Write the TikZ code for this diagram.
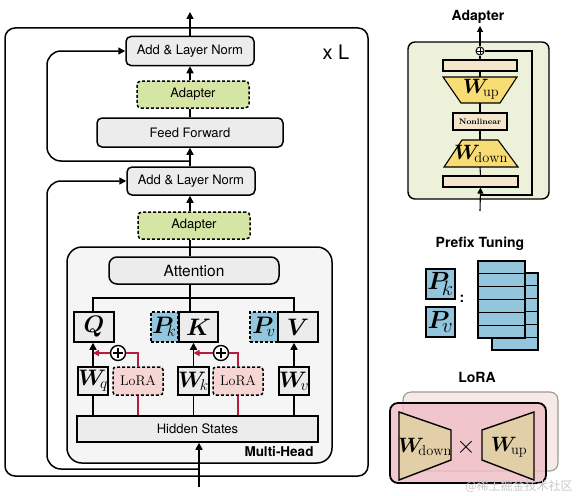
\documentclass[tikz,border=0pt]{standalone}
\usepackage{fontspec}
\setsansfont{TeX Gyre Heros}
\newfontfamily\cjk{Noto Sans CJK SC}
\usepackage{amsmath,bm,graphicx}
\usetikzlibrary{arrows.meta,calc}
\definecolor{boxgray}{HTML}{ECECEC}
\definecolor{mhgray}{HTML}{F5F5F5}
\definecolor{adgreen}{HTML}{D5E5A3}
\definecolor{pblue}{HTML}{93C5DC}
\definecolor{lorapink}{HTML}{F6D5D5}
\definecolor{lred}{HTML}{B71C3A}
\definecolor{panelgreen}{HTML}{EDF1DA}
\definecolor{trapyellow}{HTML}{F8DC74}
\definecolor{bartan}{HTML}{F4E5CB}
\definecolor{lorafront}{HTML}{EFBFC7}
\definecolor{loraback}{HTML}{F8E9E9}
\definecolor{loratan}{HTML}{E2CFA7}
\definecolor{wm}{HTML}{C8C8C8}
\newcommand\myfs[1]{\fontsize{#1}{#1}\selectfont}
\newcommand\mysclA[1]{\scalebox{1.15}{$#1$}}
\newcommand\mysclB[1]{\scalebox{1.08}{$#1$}}
\begin{document}
\begin{tikzpicture}[x=1pt,y=-1pt,
  ln/.style={line width=1.5pt},
  arr/.style={line width=1.5pt,-{Triangle[length=7pt,width=7pt]}},
  ln2/.style={line width=1.1pt},
  arr2/.style={line width=1.1pt,-{Triangle[length=6pt,width=6pt]}},
  redln/.style={line width=1.5pt, draw=lred},
  redarr/.style={line width=1.5pt, draw=lred, -{Triangle[length=6pt,width=6pt]}, lred},
  base/.style={draw, line width=1.5pt, inner sep=0pt, font=\sffamily\myfs{13}},
  gbox/.style={base, fill=boxgray, rounded corners=5pt},
  adbox/.style={base, fill=adgreen, rounded corners=4pt, dash pattern=on 3pt off 2pt},
  sqbox/.style={base, fill=boxgray, minimum height=30pt, font=\myfs{20.74}},
  wbox/.style={base, fill=boxgray, minimum height=28pt, font=\myfs{20.74}},
  pbox/.style={base, fill=pblue, minimum height=30pt, dash pattern=on 3pt off 2pt, font=\myfs{20.74}},
  lbox/.style={base, fill=lorapink, rounded corners=3pt, minimum height=28pt, minimum width=50pt, dash pattern=on 3pt off 2pt, font=\myfs{14}},
  oplus/.style={circle, draw, line width=1.4pt, fill=white, minimum size=15pt, inner sep=0pt,
    path picture={\draw[line width=1.4pt] ([xshift=-5pt]path picture bounding box.center) -- ([xshift=5pt]path picture bounding box.center);
      \draw[line width=1.4pt] ([yshift=-5pt]path picture bounding box.center) -- ([yshift=5pt]path picture bounding box.center);}},
  title/.style={font=\sffamily\bfseries\myfs{14}},
  bar/.style={draw, line width=1.1pt, fill=bartan, inner sep=0pt},
  trap/.style={draw, line width=1.1pt, fill=trapyellow},
  ltrap/.style={draw, line width=1.4pt, fill=loratan},
  pfx/.style={draw, line width=1.3pt, fill=pblue}
]
\useasboundingbox (0,0) rectangle (577,495);

% ===== left: transformer block =====
\node[draw, line width=1.5pt, rounded corners=10pt, minimum width=363pt, minimum height=448pt, inner sep=0pt] (outer) at (186.5,252) {};
\node[font=\sffamily\myfs{20}] (xl) at (336,52) {x L};

\node[draw, line width=1.5pt, rounded corners=15pt, fill=mhgray, minimum width=265pt, minimum height=216pt, inner sep=0pt] (mh) at (199.5,355) {};
\node[font=\sffamily\bfseries\myfs{13.5}] (mhl) at (279,452) {Multi-Head};

\node[gbox, minimum width=128pt, minimum height=29pt] (aln1) at (190,51) {Add \& Layer Norm};
\node[adbox, minimum width=112pt, minimum height=27pt] (adp1) at (193,94.5) {Adapter};
\node[gbox, minimum width=186pt, minimum height=29pt] (ff) at (190,132.5) {Feed Forward};
\node[gbox, minimum width=128pt, minimum height=28pt] (aln2) at (191,181) {Add \& Layer Norm};
\node[adbox, minimum width=112pt, minimum height=27pt] (adp2) at (194,225.5) {Adapter};

\node[gbox, rounded corners=8pt, minimum width=170pt, minimum height=27pt, font=\sffamily\myfs{15.5}] (att) at (194,270.5) {Attention};

\node[sqbox, minimum width=40pt] (Q) at (94,327) {\mysclA{\bm{Q}}};
\node[pbox, minimum width=27pt] (Pk) at (164.5,327) {\mysclA{\bm{P}_{\!k}}};
\node[sqbox, minimum width=39pt] (K) at (198.5,327) {\mysclA{\bm{K}}};
\node[pbox, minimum width=28pt] (Pv) at (264,327) {\mysclA{\bm{P}_{\!v}}};
\node[sqbox, minimum width=40pt] (V) at (298,327) {\mysclA{\bm{V}}};

\node[wbox, minimum width=28pt] (Wq) at (93,381) {\mysclB{\bm{W}_{\!q}}};
\node[lbox] (L1) at (138,381) {LoRA};
\node[wbox, minimum width=29pt] (Wk) at (193.5,381) {\mysclB{\bm{W}_{\!k}}};
\node[lbox] (L2) at (238,381) {LoRA};
\node[wbox, minimum width=28pt] (Wv) at (294,381) {\mysclB{\bm{W}_{\!v}}};

\node[base, fill=boxgray, minimum width=241pt, minimum height=26pt] (hs) at (197.5,429) {Hidden States};

\node[oplus] (o1) at (118,353) {};
\node[oplus] (o2) at (221,353) {};

\coordinate (cx) at (190,0);
\coordinate (out) at (190,12);
\coordinate (in) at (199,487);
\coordinate (r2) at (199,469);
\coordinate (r2c) at (47,469);
\coordinate (r1) at (190,161);
\coordinate (r1c) at (47,161);
\coordinate (bq) at (93,298);
\coordinate (bv) at (294,298);

% main flow
\draw[arr] (in) -- (in |- hs.south);
\draw[ln] (att.north -| cx) -- (adp2.south -| cx);
\draw[arr] (adp2.north -| cx) -- (aln2.south -| cx);
\draw[arr] (aln2.north -| cx) -- (ff.south -| cx);
\draw[ln] (ff.north -| cx) -- (adp1.south -| cx);
\draw[arr] (adp1.north -| cx) -- (aln1.south -| cx);
\draw[arr] (aln1.north -| cx) -- (out);
% residuals
\draw[arr, rounded corners=14pt] (r1) -- (r1c) |- (aln1.west);
\draw[arr, rounded corners=14pt] (r2) -- (r2c) |- (aln2.west);
% bus
\draw[ln] (att.south -| cx) -- (K.north -| cx);
\draw[ln] (Q.north -| bq) |- (bv) -- (V.north -| bv);
% projections
\draw[ln] (hs.north -| Wq.south) -- (Wq.south);
\draw[ln] (hs.north -| Wk.south) -- (Wk.south);
\draw[ln] (hs.north -| Wv.south) -- (Wv.south);
\draw[arr] (Wq.north) -- (Q.south -| Wq.north);
\draw[arr] (Wk.north) -- (K.south -| Wk.north);
\draw[arr] (Wv.north) -- (V.south -| Wv.north);
% lora paths
\draw[redln] (hs.north -| L1.south) -- (L1.south);
\draw[redln] (hs.north -| L2.south) -- (L2.south);
\draw[redln] (L1.north) |- (o1.east);
\draw[redln] (L2.north) |- (o2.east);
\draw[redarr] (o1.west) -- (o1.west -| Wq.north);
\draw[redarr] (o2.west) -- (o2.west -| Wk.north);

% ===== right: Adapter =====
\node[title] (tad) at (478,17) {Adapter};
\node[draw, line width=1.4pt, rounded corners=7pt, fill=panelgreen, minimum width=141pt, minimum height=157pt, inner sep=0pt] (apan) at (478.5,120.5) {};
\node[bar, minimum width=74pt, minimum height=11pt] (tb) at (480,65.5) {};
\node[bar, minimum width=75pt, minimum height=11pt] (bb) at (480.5,181.5) {};
\node[bar, minimum width=54pt, minimum height=17pt, font=\rmfamily\bfseries\myfs{8}] (nl) at (480,121.5) {Nonlinear};
\draw[trap] (443,77) -- (517,77) -- (500,103) -- (461,103) -- cycle;
\node[font=\myfs{20.74}] (wup) at (481,89) {$\bm{W}_{\!\mathrm{up}}$};
\draw[trap] (462,140) -- (498,140) -- (518,167) -- (444,167) -- cycle;
\node[font=\myfs{20.74}] (wdn) at (481,154) {$\bm{W}_{\!\mathrm{down}}$};
\node[circle, draw, line width=1pt, fill=white, minimum size=8pt, inner sep=0pt,
  path picture={\draw[line width=0.8pt] ([xshift=-3pt]path picture bounding box.center) -- ([xshift=3pt]path picture bounding box.center);
  \draw[line width=0.8pt] ([yshift=-3pt]path picture bounding box.center) -- ([yshift=3pt]path picture bounding box.center);}] (ao) at (480,51) {};
\coordinate (wupT) at (480,77);
\coordinate (wupB) at (480,103);
\coordinate (wdT) at (480,140);
\coordinate (wdB) at (480,167);
\coordinate (ain) at (480,211);
\coordinate (ares) at (480,195);
\coordinate (aresc) at (532,195);
\coordinate (arest) at (532,51);
\coordinate (aout) at (480,26);
\draw[arr2] (ain) -- (bb.south);
\draw[ln2] (bb.north) -- (wdB);
\draw[ln2] (wdT) -- (nl.south);
\draw[ln2] (nl.north) -- (wupB);
\draw[ln2] (wupT) -- (tb.south);
\draw[ln2] (tb.north) -- (ao.south);
\draw[arr2] (ao.north) -- (aout);
\draw[ln2] (ares) -- (aresc) -- (arest) -- (ao.east);

% ===== right: Prefix Tuning =====
\node[title] (tpt) at (480,244) {Prefix Tuning};
\node[pfx, minimum width=29pt, minimum height=30pt, inner sep=0pt, font=\myfs{24.88}] (pk2) at (440.5,284) {$\bm{P}_{\!k}$};
\node[pfx, minimum width=29pt, minimum height=30pt, inner sep=0pt, font=\myfs{24.88}] (pv2) at (440.5,322) {$\bm{P}_{\!v}$};
\node[font=\sffamily\bfseries\myfs{14}] (colon) at (462,299) {:};
\foreach \i in {0,...,5} {
  \draw[pfx] (492,273+12.83*\i) rectangle (538,273+12.83*\i+12.83);
}
\foreach \i in {0,...,5} {
  \draw[pfx] (478,261+12.83*\i) rectangle (525,261+12.83*\i+12.83);
}

% ===== right: LoRA =====
\node[title] (tlo) at (477,377) {LoRA};
\node[draw=gray!80, line width=1.1pt, rounded corners=8pt, fill=loraback, minimum width=155pt, minimum height=79pt, inner sep=0pt] (lback) at (480.5,431.5) {};
\node[draw=black, line width=1.8pt, rounded corners=8pt, fill=lorafront, fill opacity=0.85, minimum width=156pt, minimum height=80pt, inner sep=0pt] (lfront) at (468,443) {};
\draw[ltrap] (399,412) -- (451,430) -- (451,460) -- (399,480) -- cycle;
\node[font=\myfs{20.74}] (lwd) at (425,447) {$\bm{W}_{\!\mathrm{down}}$};
\node[font=\myfs{24.88}] (times) at (466,447) {$\times$};
\draw[ltrap] (482,430) -- (534,412) -- (534,480) -- (482,460) -- cycle;
\node[font=\myfs{20.74}] (lwu) at (509,447) {$\bm{W}_{\!\mathrm{up}}$};

\node[font=\cjk\myfs{12}, text=wm] (wmk) at (519,486) {@稀土掘金技术社区};
\end{tikzpicture}
\end{document}
